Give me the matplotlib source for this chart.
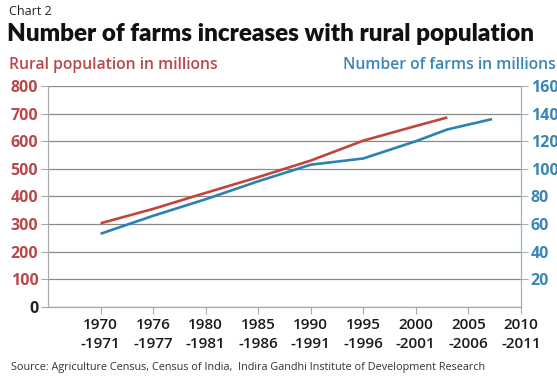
import matplotlib
matplotlib.use("Agg")
import matplotlib.pyplot as plt

plt.rcParams['font.family'] = ['Open Sans', 'DejaVu Sans']

# category labels along the x axis
periods = ["1970\n-1971", "1976\n-1977", "1980\n-1981", "1985\n-1986", "1990\n-1991",
           "1995\n-1996", "2000\n-2001", "2005\n-2006", "2010\n-2011"]

# rural population (millions), positions in category units
pop_x = [0, 1, 2, 3, 4, 5, 6, 6.6]
pop_y = [303, 355, 413, 470, 530, 602, 655, 686]

# number of farms (millions)
farms_x = [0, 1, 2, 3, 4, 5, 6, 6.6, 7.45]
farms_y = [53, 66, 78, 91, 103, 107.5, 120, 128.5, 136]

left_ticks = [0, 100, 200, 300, 400, 500, 600, 700, 800]
right_ticks = [20, 40, 60, 80, 100, 120, 140, 160]

RED = "#c3443c"
BLUE = "#2b82b0"
RED_TXT = "#b9484a"
BLUE_TXT = "#3a86b4"

fig = plt.figure(figsize=(5.57, 3.77), dpi=100)
ax = fig.add_axes([0.0862, 0.1857, 0.849, 0.5863])
ax2 = ax.twinx()

ax.plot(pop_x, pop_y, color=RED, lw=1.9, solid_capstyle='butt', zorder=3)
ax2.plot(farms_x, farms_y, color=BLUE, lw=1.9, solid_capstyle='butt', zorder=3)

ax.set_xlim(-1, 8)
ax.set_ylim(0, 800)
ax2.set_ylim(0, 160)

ax.set_yticks(left_ticks)
ax.set_yticklabels([str(v) for v in left_ticks])
ax2.set_yticks(right_ticks)
ax2.set_yticklabels([str(v) for v in right_ticks])
ax.set_xticks(range(len(periods)))
ax.set_xticklabels(periods, fontsize=11, fontweight='semibold', color='#1a1a1a',
                   linespacing=1.45)

ax.grid(axis='y', color='#8a8a8a', lw=0.9)
ax.set_axisbelow(True)

for t in ax.get_yticklabels():
    t.set_color(RED_TXT)
    t.set_fontweight('bold')
    t.set_fontsize(11.5)
ax.get_yticklabels()[0].set_color('#222222')
for t in ax2.get_yticklabels():
    t.set_color(BLUE_TXT)
    t.set_fontweight('bold')
    t.set_fontsize(11.5)

ax.tick_params(axis='y', length=5, color='#aaaaaa', pad=2)
ax.tick_params(axis='x', length=5, color='#aaaaaa', pad=3)
ax2.tick_params(axis='y', length=5, color='#9ab4c4', pad=2)

for a in (ax, ax2):
    a.spines['top'].set_visible(False)
    a.spines['left'].set_color('#aaaaaa')
    a.spines['bottom'].set_color('#aaaaaa')
    a.spines['right'].set_color('#9ab4c4')

fig.text(0.016, 0.988, "Chart 2", fontsize=9, color='#222222', va='top')
fig.text(0.013, 0.938, "Number of farms increases with rural population",
         fontsize=17.4, fontweight='heavy', color='#111111', va='top',
         family=['Lato', 'DejaVu Sans'])
fig.text(0.016, 0.848, "Rural population in millions", fontsize=11.3,
         fontweight='semibold', color=RED_TXT, va='top')
fig.text(0.997, 0.848, "Number of farms in millions", fontsize=11.3,
         fontweight='semibold', color=BLUE_TXT, va='top', ha='right')
fig.text(0.02, 0.025, "Source: Agriculture Census, Census of India,  Indira Gandhi Institute of Development Research",
         fontsize=7.8, color='#333333', va='center')

fig.savefig("out.png", dpi=100, facecolor='white')
